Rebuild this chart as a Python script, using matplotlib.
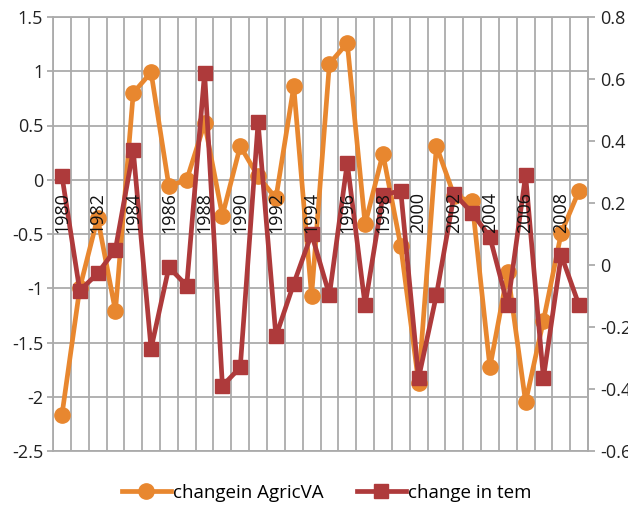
import matplotlib
matplotlib.use("Agg")
import matplotlib.pyplot as plt
from matplotlib.ticker import FuncFormatter, FixedLocator

plt.rcParams['font.family'] = ['Open Sans', 'DejaVu Sans']
plt.rcParams['axes.unicode_minus'] = False

years = list(range(1980, 2010))
agric_va = [-2.17, -1.00, -0.35, -1.21, 0.80, 0.99, -0.06, 0.00, 0.52, -0.33,
            0.31, 0.03, -0.17, 0.86, -1.07, 1.07, 1.26, -0.41, 0.24, -0.61,
            -1.87, 0.31, -0.15, -0.20, -1.73, -0.85, -2.05, -1.30, -0.49, -0.10]
tem = [0.288, -0.083, -0.027, 0.05, 0.37, -0.27, -0.007, -0.067, 0.62, -0.39,
       -0.33, 0.46, -0.23, -0.06, 0.10, -0.097, 0.33, -0.13, 0.225, 0.24,
       -0.365, -0.097, 0.23, 0.168, 0.09, -0.13, 0.29, -0.365, 0.032, -0.13]
left_ticks = [-2.5, -2, -1.5, -1, -0.5, 0, 0.5, 1, 1.5]
right_ticks = [-0.6, -0.4, -0.2, 0, 0.2, 0.4, 0.6, 0.8]
labels = ["changein AgricVA", "change in tem"]

orange = "#E8872F"
red = "#AE3A3B"
grid_c = "#ABABAB"

fig = plt.figure(figsize=(6.28, 5.05), dpi=100)
ax = fig.add_axes([53/628, 54/505, 535/628, 434/505])
x = list(range(len(years)))

ax.set_xlim(-0.5, len(years) - 0.5)
ax.set_ylim(-2.5, 1.5)
ax.set_axisbelow(True)

# vertical grid at category boundaries
ax.xaxis.set_minor_locator(FixedLocator([i - 0.5 for i in range(len(years) + 1)]))
ax.grid(which='minor', axis='x', color=grid_c, linewidth=1.3)
ax.set_xticks([])
ax.set_yticks(left_ticks)
ax.grid(which='major', axis='y', color=grid_c, linewidth=1.3)
ax.yaxis.set_major_formatter(FuncFormatter(lambda v, p: f"{v:g}"))
ax.tick_params(axis='y', direction='out', length=4, width=1.3, color=grid_c,
               pad=3, labelsize=13, labelcolor='#222222')
ax.tick_params(axis='x', which='both', length=0)
for s in ax.spines.values():
    s.set_color(grid_c)
    s.set_linewidth(1.3)

l1, = ax.plot(x, agric_va, color=orange, linewidth=3.4, marker='o', markersize=11,
              label=labels[0], zorder=3)

ax2 = ax.twinx()
ax2.set_ylim(-0.6, 0.8)
ax2.set_yticks(right_ticks)
ax2.yaxis.set_major_formatter(FuncFormatter(lambda v, p: f"{v:g}"))
ax2.tick_params(axis='y', direction='out', length=5, width=1.3, color=grid_c,
                pad=4, labelsize=13, labelcolor='#222222')
for s in ax2.spines.values():
    s.set_visible(False)
ax2.spines['right'].set_visible(True)
ax2.spines['right'].set_color(grid_c)
ax2.spines['right'].set_linewidth(1.3)
l2, = ax2.plot(x, tem, color=red, linewidth=3.4, marker='s', markersize=10.5,
               label=labels[1], zorder=3)

# category labels at the axis crossing (left value 0), drawn above the lines
for i in x[::2]:
    ax2.annotate(str(years[i]), xy=(i, 0), xycoords=ax.transData,
                 xytext=(0, -9), textcoords='offset points', rotation=90,
                 ha='center', va='top', fontsize=13, color='#111111', zorder=10)

fig.legend([l1, l2], labels, loc='center', bbox_to_anchor=(0.52, 1 - 493/505),
           ncol=2, frameon=False, fontsize=13.5, handlelength=2.6,
           handletextpad=0.1, columnspacing=1.8)

fig.savefig("out.png", dpi=100)
